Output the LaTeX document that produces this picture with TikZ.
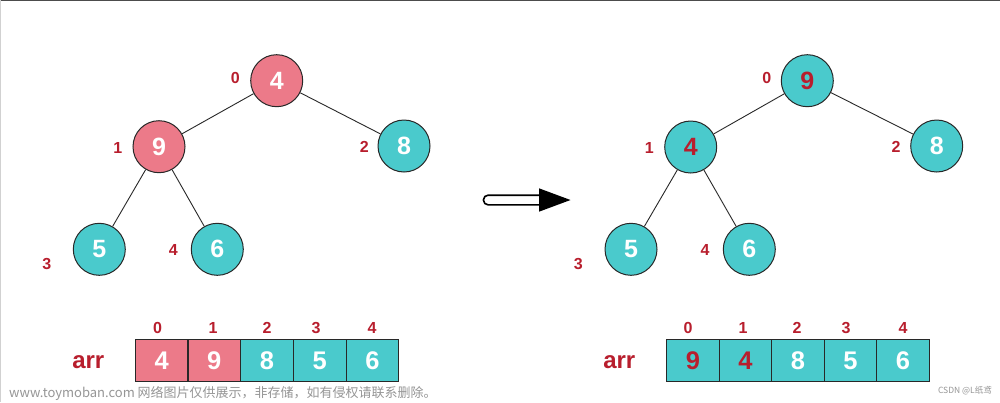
\documentclass[tikz,border=0pt]{standalone}
\usepackage{fontspec}
\setmainfont{Liberation Sans}
\newfontfamily\cjkfont{Noto Sans CJK SC}
\definecolor{pinkc}{RGB}{236,122,137}
\definecolor{tealc}{RGB}{74,202,204}
\definecolor{redc}{RGB}{184,30,45}
\definecolor{edgec}{RGB}{40,40,40}
\definecolor{wmc}{RGB}{150,150,150}
\tikzset{
  hnode/.style={circle,draw=edgec,line width=1pt,minimum size=52pt,inner sep=0pt,font=\fontsize{25}{25}\selectfont\bfseries,text=white},
  pinknode/.style={hnode,fill=pinkc},
  tealnode/.style={hnode,fill=tealc},
  idx/.style={font=\fontsize{16}{16}\selectfont\bfseries,text=redc,inner sep=0pt},
  cell/.style={rectangle,draw=edgec,line width=1pt,minimum width=52.6pt,minimum height=42.4pt,inner sep=0pt,font=\fontsize{25.5}{25.5}\selectfont\bfseries,text=white},
  pinkcell/.style={cell,fill=pinkc},
  tealcell/.style={cell,fill=tealc},
  arrlab/.style={font=\fontsize{24}{24}\selectfont\bfseries,text=redc,inner sep=0pt},
  tedge/.style={draw=edgec,line width=0.9pt},
}
\begin{document}
\begin{tikzpicture}[x=1pt,y=-1pt]
\useasboundingbox (0,0) rectangle (1000,402);
\fill[white] (0,0) rectangle (1000,402);
\draw[line width=1.2pt,color=black!70] (0,0.6) -- (1000,0.6);
\draw[line width=1.2pt,color=black!18] (0.6,0) -- (0.6,402);
% left tree
\node[pinknode] (a0) at (276.7,80.7) {4};
\node[pinknode] (a1) at (159,146.7) {9};
\node[tealnode] (a2) at (404,146) {8};
\node[tealnode] (a3) at (99.3,249.3) {5};
\node[tealnode] (a4) at (217.3,249.3) {6};
\draw[tedge] (a0) -- (a1);
\draw[tedge] (a0) -- (a2);
\draw[tedge] (a1) -- (a3);
\draw[tedge] (a1) -- (a4);
\node[idx] (la0) at (235.3,78) {0};
\node[idx] (la1) at (117.7,148) {1};
\node[idx] (la2) at (364.3,147) {2};
\node[idx] (la3) at (46.7,264) {3};
\node[idx] (la4) at (173.3,249.5) {4};
% right tree
\node[tealnode,text=redc] (b0) at (807.3,80.7) {9};
\node[tealnode,text=redc] (b1) at (690.7,147) {4};
\node[tealnode] (b2) at (936.7,146) {8};
\node[tealnode] (b3) at (631,249.3) {5};
\node[tealnode] (b4) at (749.3,249.3) {6};
\draw[tedge] (b0) -- (b1);
\draw[tedge] (b0) -- (b2);
\draw[tedge] (b1) -- (b3);
\draw[tedge] (b1) -- (b4);
\node[idx] (lb0) at (766.7,78) {0};
\node[idx] (lb1) at (649.3,148) {1};
\node[idx] (lb2) at (896,147) {2};
\node[idx] (lb3) at (578.3,264) {3};
\node[idx] (lb4) at (705,249.5) {4};
% arrow
\draw[line width=1.6pt,fill=white,rounded corners=4.5pt] (541,195.2) -- (483.5,195.2) -- (483.5,204.8) -- (541,204.8);
\fill[black] (539,188.3) -- (570.5,200) -- (539,211.7) -- cycle;
% left array
\node[pinkcell] (c0) at (161.6,360.5) {4};
\node[pinkcell] (c1) at (214.3,360.5) {9};
\node[tealcell] (c2) at (267,360.5) {8};
\node[tealcell] (c3) at (319.7,360.5) {5};
\node[tealcell] (c4) at (372.4,360.5) {6};
\node[arrlab] (arrA) at (88.3,362) {arr};
\foreach \i/\x in {0/157.5,1/213,2/267,3/316,4/372}{
  \node[idx] (ic\i) at (\x,328.3) {\i};
}
% right array
\node[tealcell,text=redc] (d0) at (693,360.5) {9};
\node[tealcell,text=redc] (d1) at (745.5,360.5) {4};
\node[tealcell] (d2) at (798,360.5) {8};
\node[tealcell] (d3) at (850.5,360.5) {5};
\node[tealcell] (d4) at (903,360.5) {6};
\node[arrlab] (arrB) at (619.3,362) {arr};
\foreach \i/\x in {0/688,1/743,2/797,3/846,4/903}{
  \node[idx] (id\i) at (\x,328.3) {\i};
}
% watermarks
\node[anchor=west,inner sep=0pt,text=wmc,font=\cjkfont\fontsize{13}{13}\selectfont] (wm) at (9,393) {www.toymoban.com 网络图片仅供展示，非存储，如有侵权请联系删除。};
\node[anchor=east,inner sep=0pt,text=wmc,font=\cjkfont\fontsize{8.5}{8.5}\selectfont] (csdn) at (992,391) {CSDN @L纸鸢};
\end{tikzpicture}
\end{document}
